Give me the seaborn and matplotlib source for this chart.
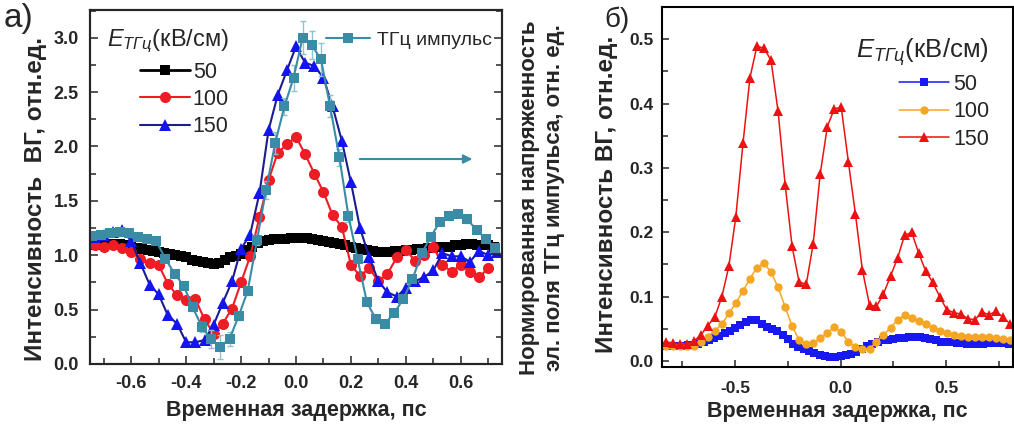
import matplotlib
matplotlib.use("Agg")
import matplotlib.pyplot as plt
import seaborn as sns
from matplotlib.ticker import MultipleLocator, FormatStrFormatter
from matplotlib.lines import Line2D

# ---------------- panel a data ----------------
a_x50 = [-0.74, -0.72, -0.70, -0.68, -0.66, -0.64, -0.62, -0.60, -0.58, -0.56,
         -0.54, -0.52, -0.50, -0.48, -0.46, -0.44, -0.42, -0.40, -0.38, -0.36,
         -0.34, -0.32, -0.30, -0.28, -0.26, -0.24, -0.22, -0.20, -0.18, -0.16,
         -0.14, -0.12, -0.10, -0.08, -0.06, -0.04, -0.02, 0.00, 0.02, 0.04,
         0.06, 0.08, 0.10, 0.12, 0.14, 0.16, 0.18, 0.20, 0.22, 0.24,
         0.26, 0.28, 0.30, 0.32, 0.34, 0.36, 0.38, 0.40, 0.42, 0.44,
         0.46, 0.48, 0.50, 0.52, 0.54, 0.56, 0.58, 0.60, 0.62, 0.64,
         0.66, 0.68, 0.70, 0.72]
a_y50 = [1.09, 1.09, 1.10, 1.10, 1.10, 1.10, 1.09, 1.08, 1.07, 1.06,
         1.05, 1.04, 1.03, 1.02, 1.01, 1.00, 0.99, 0.98, 0.96, 0.95,
         0.94, 0.93, 0.92, 0.93, 0.96, 0.98, 0.99, 1.01, 1.05, 1.08,
         1.11, 1.13, 1.14, 1.15, 1.15, 1.15, 1.16, 1.16, 1.16, 1.16,
         1.15, 1.14, 1.13, 1.12, 1.11, 1.10, 1.09, 1.08, 1.07, 1.06,
         1.05, 1.04, 1.03, 1.03, 1.03, 1.04, 1.04, 1.05, 1.05, 1.06,
         1.06, 1.07, 1.07, 1.08, 1.08, 1.08, 1.09, 1.09, 1.10, 1.10,
         1.09, 1.09, 1.09, 1.08]

a_x100 = [-0.733, -0.700, -0.667, -0.633, -0.600, -0.567, -0.533, -0.500, -0.467, -0.433,
          -0.400, -0.367, -0.333, -0.300, -0.267, -0.233, -0.200, -0.167, -0.133, -0.100,
          -0.067, -0.033, 0.000, 0.033, 0.067, 0.100, 0.133, 0.167, 0.200, 0.233,
          0.267, 0.300, 0.333, 0.367, 0.400, 0.433, 0.467, 0.500, 0.533, 0.567,
          0.600, 0.633, 0.667, 0.700]
a_y100 = [1.09, 1.08, 1.09, 1.07, 1.03, 0.97, 0.93, 0.91, 0.74, 0.63,
          0.59, 0.60, 0.41, 0.28, 0.37, 0.51, 0.75, 0.99, 1.35, 1.69,
          1.94, 2.02, 2.09, 1.93, 1.75, 1.58, 1.37, 1.26, 0.91, 0.81,
          0.88, 0.76, 0.83, 0.98, 1.05, 0.95, 1.00, 1.08, 0.91, 0.85,
          0.91, 0.85, 0.80, 0.88]

a_x150 = [-0.733, -0.700, -0.667, -0.633, -0.600, -0.567, -0.533, -0.500, -0.467, -0.433,
          -0.400, -0.367, -0.333, -0.300, -0.267, -0.233, -0.200, -0.167, -0.133, -0.100,
          -0.067, -0.033, 0.000, 0.033, 0.067, 0.100, 0.133, 0.167, 0.200, 0.233,
          0.267, 0.300, 0.333, 0.367, 0.400, 0.433, 0.467, 0.500, 0.533, 0.567,
          0.600, 0.633, 0.667, 0.700, 0.733]
a_y150 = [1.17, 1.19, 1.21, 1.23, 1.13, 0.93, 0.73, 0.64, 0.45, 0.37,
          0.20, 0.20, 0.22, 0.36, 0.56, 0.76, 1.06, 1.19, 1.57, 2.15,
          2.47, 2.70, 2.92, 2.77, 2.74, 2.63, 2.37, 2.05, 1.67, 1.25,
          0.98, 0.76, 0.66, 0.62, 0.70, 0.76, 0.80, 0.86, 1.02, 0.99,
          0.99, 0.94, 1.04, 1.00, 1.03]

thz_x = [-0.742, -0.709, -0.676, -0.642, -0.609, -0.576, -0.542, -0.509, -0.476, -0.442,
         -0.409, -0.376, -0.342, -0.309, -0.276, -0.242, -0.209, -0.176, -0.142, -0.109,
         -0.076, -0.042, -0.009, 0.024, 0.058, 0.091, 0.124, 0.158, 0.191, 0.224,
         0.258, 0.291, 0.324, 0.358, 0.391, 0.424, 0.458, 0.491, 0.524, 0.558,
         0.591, 0.624, 0.658, 0.691, 0.724]
thz_y = [1.18, 1.19, 1.20, 1.21, 1.20, 1.17, 1.15, 1.13, 0.97, 0.83,
         0.72, 0.52, 0.34, 0.23, 0.16, 0.23, 0.44, 0.67, 1.14, 1.60,
         2.03, 2.37, 2.63, 3.00, 2.93, 2.80, 2.37, 1.90, 1.36, 0.97,
         0.57, 0.41, 0.37, 0.47, 0.60, 0.78, 1.02, 1.17, 1.31, 1.36,
         1.38, 1.33, 1.23, 1.15, 1.07]
thz_err = [0.03, 0.03, 0.03, 0.03, 0.03, 0.03, 0.03, 0.03, 0.03, 0.03,
           0.03, 0.03, 0.05, 0.08, 0.11, 0.06, 0.04, 0.04, 0.05, 0.08,
           0.10, 0.08, 0.12, 0.15, 0.13, 0.15, 0.10, 0.08, 0.05, 0.03,
           0.03, 0.03, 0.03, 0.03, 0.03, 0.03, 0.03, 0.03, 0.03, 0.03,
           0.03, 0.03, 0.03, 0.03, 0.03]

# ---------------- panel b data ----------------
b_x50 = [-0.850, -0.825, -0.800, -0.775, -0.750, -0.725, -0.700, -0.675, -0.650, -0.625,
         -0.600, -0.575, -0.550, -0.525, -0.500, -0.475, -0.450, -0.425, -0.400, -0.375,
         -0.350, -0.325, -0.300, -0.275, -0.250, -0.225, -0.200, -0.175, -0.150, -0.125,
         -0.100, -0.075, -0.050, -0.025, 0.000, 0.025, 0.050, 0.075, 0.100, 0.125,
         0.150, 0.175, 0.200, 0.225, 0.250, 0.275, 0.300, 0.325, 0.350, 0.375,
         0.400, 0.425, 0.450, 0.475, 0.500, 0.525, 0.550, 0.575, 0.600, 0.625,
         0.650, 0.675, 0.700, 0.725, 0.750, 0.775, 0.800]
b_y50 = [0.024, 0.024, 0.024, 0.024, 0.024, 0.025, 0.025, 0.027, 0.029, 0.032,
         0.035, 0.039, 0.043, 0.047, 0.052, 0.056, 0.061, 0.064, 0.063, 0.058,
         0.053, 0.050, 0.046, 0.040, 0.034, 0.027, 0.022, 0.018, 0.015, 0.012,
         0.010, 0.008, 0.006, 0.007, 0.008, 0.009, 0.011, 0.014, 0.018, 0.023,
         0.027, 0.030, 0.032, 0.033, 0.034, 0.035, 0.036, 0.037, 0.038, 0.038,
         0.036, 0.034, 0.032, 0.030, 0.029, 0.029, 0.028, 0.028, 0.027, 0.027,
         0.026, 0.027, 0.028, 0.028, 0.028, 0.028, 0.027]

b_x = [-0.830, -0.797, -0.763, -0.730, -0.697, -0.663, -0.630, -0.597, -0.563, -0.530,
       -0.497, -0.463, -0.430, -0.397, -0.363, -0.330, -0.297, -0.263, -0.230, -0.197,
       -0.163, -0.130, -0.097, -0.063, -0.030, 0.003, 0.037, 0.070, 0.103, 0.137,
       0.170, 0.203, 0.237, 0.270, 0.303, 0.337, 0.370, 0.403, 0.437, 0.470,
       0.503, 0.537, 0.570, 0.603, 0.637, 0.670, 0.703, 0.737, 0.770, 0.803]
b_y100 = [0.024, 0.024, 0.023, 0.023, 0.024, 0.030, 0.038, 0.047, 0.057, 0.074,
          0.090, 0.109, 0.128, 0.145, 0.152, 0.138, 0.115, 0.084, 0.054, 0.033,
          0.026, 0.028, 0.035, 0.043, 0.053, 0.045, 0.030, 0.022, 0.018, 0.019,
          0.030, 0.040, 0.052, 0.064, 0.071, 0.067, 0.062, 0.057, 0.052, 0.047,
          0.043, 0.041, 0.039, 0.038, 0.037, 0.037, 0.038, 0.035, 0.034, 0.032]
b_y150 = [0.030, 0.028, 0.026, 0.026, 0.031, 0.040, 0.055, 0.068, 0.100, 0.147,
          0.224, 0.338, 0.440, 0.489, 0.486, 0.467, 0.389, 0.274, 0.178, 0.123,
          0.119, 0.182, 0.290, 0.364, 0.392, 0.394, 0.309, 0.229, 0.142, 0.087,
          0.085, 0.104, 0.132, 0.160, 0.195, 0.200, 0.168, 0.140, 0.122, 0.100,
          0.080, 0.075, 0.073, 0.066, 0.064, 0.076, 0.072, 0.077, 0.068, 0.058]

legend_labels = ['50', '100', '150']
xlabel = 'Временная задержка, пс'
ylabel_a = 'Интенсивность  ВГ, отн.ед.'
ylabel_b = 'Интенсивность ВГ, отн.ед.'
ylabel_right = 'Нормированная напряженность\nэл. поля ТГц импульса, отн. ед.'
legend_title = r'$\mathit{E}_{\mathit{ТГц}}$(кВ/см)'
thz_label = 'ТГц импульс'

# ---------------- style ----------------
sns.set_style("ticks")
plt.rcParams['font.family'] = ['Liberation Sans', 'DejaVu Sans']
plt.rcParams['axes.unicode_minus'] = False
plt.rcParams['mathtext.fontset'] = 'custom'
plt.rcParams['mathtext.it'] = 'Liberation Sans:italic'
plt.rcParams['mathtext.rm'] = 'Liberation Sans'

C_RED_A = '#ee1c24'
C_BLUE_A_LINE = '#1c1c8f'
C_BLUE_A = '#1414f0'
C_TEAL = '#3a8ca6'
C_TEAL_ERR = '#8fc2d2'
C_BLUE_B = '#1818f0'
C_ORANGE_B = '#f5a623'
C_RED_B = '#ec1212'

W, H = 1014, 430
fig = plt.figure(figsize=(W / 100, H / 100), dpi=100)


def px_axes(l, t, r, b):
    return fig.add_axes([l / W, 1 - b / H, (r - l) / W, (b - t) / H])


axA = px_axes(90, 10, 502, 364)
axB = px_axes(662, 7, 1013, 367)

# ---------------- panel a ----------------
sns.lineplot(x=a_x50, y=a_y50, ax=axA, color='black', marker='s', markersize=6.5,
             markerfacecolor='black', markeredgecolor='black', markeredgewidth=0,
             linewidth=2, estimator=None, sort=False, legend=False)
sns.lineplot(x=a_x100, y=a_y100, ax=axA, color=C_RED_A, marker='o', markersize=8,
             markerfacecolor=C_RED_A, markeredgecolor=C_RED_A, markeredgewidth=0,
             linewidth=1.5, estimator=None, sort=False, legend=False)
sns.lineplot(x=a_x150, y=a_y150, ax=axA, color=C_BLUE_A_LINE, marker='^', markersize=8,
             markerfacecolor=C_BLUE_A, markeredgecolor=C_BLUE_A, markeredgewidth=0,
             linewidth=1.5, estimator=None, sort=False, legend=False)

axA.set_xlim(-0.75, 0.75)
axA.set_ylim(0.0, 3.255)
axA.xaxis.set_major_locator(MultipleLocator(0.2))
axA.xaxis.set_minor_locator(MultipleLocator(0.1))
axA.yaxis.set_major_locator(MultipleLocator(0.5))
axA.yaxis.set_minor_locator(MultipleLocator(0.25))
axA.xaxis.set_major_formatter(FormatStrFormatter('%.1f'))
axA.yaxis.set_major_formatter(FormatStrFormatter('%.1f'))
axA.tick_params(which='both', direction='in', top=False, right=False, width=1.1,
                labelsize=13, pad=8)
axA.tick_params(which='major', length=6)
axA.tick_params(which='minor', length=4.5)
for lab in axA.get_xticklabels() + axA.get_yticklabels():
    lab.set_fontweight('bold')
for s in axA.spines.values():
    s.set_linewidth(1.5)
    s.set_color('black')
axA.set_xlabel(xlabel, fontsize=15.5, fontweight='bold', labelpad=6)
axA.set_ylabel(ylabel_a, fontsize=17.5, fontweight='bold', labelpad=5, y=0.465)

hA = [Line2D([], [], color='black', marker='s', markersize=6.5, lw=2, mew=0),
      Line2D([], [], color=C_RED_A, marker='o', markersize=8, lw=1.5, mew=0),
      Line2D([], [], color=C_BLUE_A_LINE, marker='^', markersize=8, lw=1.5,
             markerfacecolor=C_BLUE_A, mew=0)]
axA.legend(handles=hA, labels=legend_labels, title=legend_title, title_fontsize=17,
           fontsize=15.5, loc='upper left', bbox_to_anchor=(0.041, 0.95),
           frameon=False, borderpad=0, borderaxespad=0, handlelength=2.3,
           handletextpad=0.15, labelspacing=0.3, alignment='right')

# twin axis: THz pulse
axA2 = axA.twinx()
axA2.set_ylim(axA.get_ylim())
axA2.errorbar(thz_x, thz_y, yerr=thz_err, fmt='none', ecolor=C_TEAL_ERR,
              elinewidth=1, capsize=2.5, capthick=1, zorder=1)
sns.lineplot(x=thz_x, y=thz_y, ax=axA2, color=C_TEAL, marker='s', markersize=6.5,
             markerfacecolor=C_TEAL, markeredgecolor=C_TEAL, markeredgewidth=0,
             linewidth=1.5, estimator=None, sort=False, legend=False, zorder=2)
axA2.yaxis.set_major_locator(MultipleLocator(0.5))
axA2.yaxis.set_minor_locator(MultipleLocator(0.25))
axA2.tick_params(which='both', direction='in', labelright=False, width=1.1)
axA2.tick_params(which='major', length=6)
axA2.tick_params(which='minor', length=4.5)
axA2.set_ylabel(ylabel_right, fontsize=16, fontweight='bold', labelpad=12,
                linespacing=1.25, y=0.47)
for s in axA2.spines.values():
    s.set_linewidth(1.5)
hT = [Line2D([], [], color=C_TEAL, marker='s', markersize=6.5, lw=1.5, mew=0)]
axA2.legend(handles=hT, labels=[thz_label], fontsize=14, loc='upper left',
            bbox_to_anchor=(0.572, 0.94), frameon=False, borderpad=0,
            borderaxespad=0, handlelength=2.3, handletextpad=0.35)
axA2.annotate('', xy=(0.935, 0.579), xytext=(0.648, 0.579), xycoords='axes fraction',
              arrowprops=dict(arrowstyle='-|>', color=C_TEAL, lw=1.5,
                              mutation_scale=13))

# ---------------- panel b ----------------
sns.lineplot(x=b_x50, y=b_y50, ax=axB, color=C_BLUE_B, marker='s', markersize=5.5,
             markerfacecolor=C_BLUE_B, markeredgecolor=C_BLUE_B, markeredgewidth=0,
             linewidth=1.1, estimator=None, sort=False, legend=False)
sns.lineplot(x=b_x, y=b_y100, ax=axB, color=C_ORANGE_B, marker='o', markersize=6,
             markerfacecolor=C_ORANGE_B, markeredgecolor=C_ORANGE_B, markeredgewidth=0,
             linewidth=1.1, estimator=None, sort=False, legend=False)
sns.lineplot(x=b_x, y=b_y150, ax=axB, color=C_RED_B, marker='^', markersize=6.5,
             markerfacecolor=C_RED_B, markeredgecolor=C_RED_B, markeredgewidth=0,
             linewidth=1.1, estimator=None, sort=False, legend=False)
axB.set_xlim(-0.847, 0.8175)
axB.set_ylim(-0.0093, 0.550)
axB.xaxis.set_major_locator(MultipleLocator(0.5))
axB.xaxis.set_minor_locator(MultipleLocator(0.25))
axB.yaxis.set_major_locator(MultipleLocator(0.1))
axB.yaxis.set_minor_locator(MultipleLocator(0.05))
axB.xaxis.set_major_formatter(FormatStrFormatter('%.1f'))
axB.yaxis.set_major_formatter(FormatStrFormatter('%.1f'))
axB.tick_params(which='both', direction='in', top=False, right=False, width=1.1,
                labelsize=12.5)
axB.tick_params(axis='x', pad=10)
axB.tick_params(axis='y', pad=6)
axB.tick_params(which='major', length=5)
axB.tick_params(which='minor', length=4)
for lab in axB.get_xticklabels() + axB.get_yticklabels():
    lab.set_fontweight('bold')
for s in axB.spines.values():
    s.set_linewidth(1.5)
    s.set_color('black')
axB.set_xlabel(xlabel, fontsize=15.5, fontweight='bold', labelpad=4)
axB.set_ylabel(ylabel_b, fontsize=17.5, fontweight='bold', labelpad=8, y=0.48)
hB = [Line2D([], [], color=C_BLUE_B, marker='s', markersize=5.5, lw=1.1, mew=0),
      Line2D([], [], color=C_ORANGE_B, marker='o', markersize=6, lw=1.1, mew=0),
      Line2D([], [], color=C_RED_B, marker='^', markersize=6.5, lw=1.1, mew=0)]
axB.legend(handles=hB, labels=legend_labels, title=legend_title, title_fontsize=18.5,
           fontsize=15.5, loc='upper left', bbox_to_anchor=(0.554, 0.92),
           frameon=False, borderpad=0, borderaxespad=0, handlelength=2.3,
           handletextpad=0.2, labelspacing=0.3, alignment='right')

# panel letters
fig.text(4 / W, 1 - 3 / H, 'а)', fontsize=24, va='top', ha='left')
fig.text(604 / W, 1 - 7 / H, 'б)', fontsize=20, va='top', ha='left')

fig.savefig('out.png', dpi=100)
